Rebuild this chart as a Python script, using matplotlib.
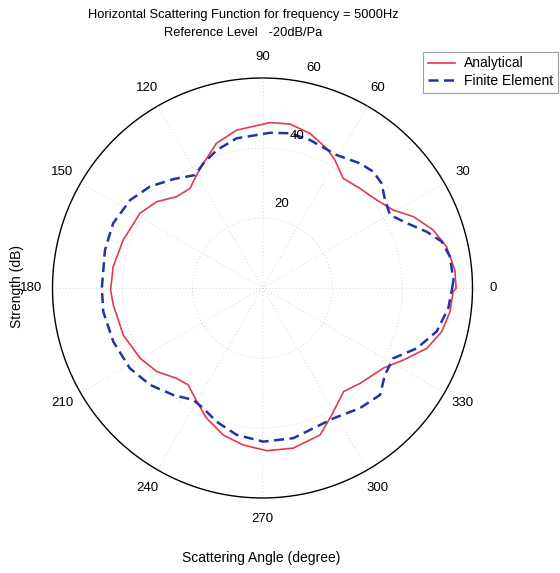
import numpy as np
import matplotlib
matplotlib.use("Agg")
import matplotlib.pyplot as plt

plt.rcParams['font.family'] = ['Liberation Sans', 'DejaVu Sans']

# angle (deg), strength (dB)
ang_analytical = [0, 5.3, 12.6, 18.8, 25.3, 30.8, 37.6, 45.6, 53.6, 60.5, 65.3, 72.9,
                  80.5, 87.4, 99.3, 107.6, 115.4, 120.2, 126, 133.2, 140.8, 148.6,
                  161, 171.9, 180.8, 186.5, 198.7, 209.9, 218.3, 226.5, 232.6, 240,
                  246.8, 255.1, 263, 271.5, 280.9, 291.4, 298.6, 308.1, 315.7, 326.4,
                  332.9, 339.8, 346.3, 352.8, 358.9, 360]
r_analytical = [55.3, 55.2, 53.9, 51.5, 47.7, 43.5, 41.2, 39.8, 38.9, 42.0, 43.9, 46.2,
                47.5, 47.3, 45.7, 43.4, 39.4, 37.4, 35.2, 35.8, 39.0, 41.0,
                42.1, 43.1, 43.4, 42.9, 42.0, 40.3, 38.5, 35.6, 34.9, 37.5,
                40.5, 43.5, 45.2, 46.5, 46.6, 45.1, 41.3, 37.6, 39.0, 41.4,
                45.2, 50.0, 52.7, 54.0, 54.5, 55.3]

ang_fe = [0, 2.4, 9.5, 14.5, 18.9, 24.2, 29.8, 35.7, 41.3, 46.4, 52, 60.8, 72.2,
          79.9, 87.2, 99.8, 108.4, 115.4, 120.9, 129.3, 138, 146.4, 156.6, 166.4,
          180, 188.5, 199.8, 211.2, 220.8, 230.2, 238.3, 243.8, 251.1, 260, 270.3,
          281.6, 298.5, 309, 317.7, 324.6, 331.7, 338.6, 346, 353.8, 360]
r_fe = [54.2, 54.6, 54.3, 52.9, 49.6, 45.2, 42.0, 43.1, 45.3, 45.9, 45.2, 43.5, 44.4,
        44.9, 44.4, 43.4, 41.5, 39.4, 37.6, 40.2, 43.3, 45.4, 46.5, 46.3,
        45.9, 46.0, 45.3, 44.3, 42.4, 39.8, 37.6, 38.3, 40.4, 42.6, 43.9,
        43.8, 42.4, 44.2, 45.4, 42.9, 42.4, 47.3, 51.3, 53.4, 54.2]

rings = [20, 40, 60]
angle_ticks = [0, 30, 60, 90, 120, 150, 180, 210, 240, 270, 300, 330]

fig = plt.figure(figsize=(5.6, 5.73), dpi=100)
ax = fig.add_axes([0.09375, 0.1309, 0.75, 0.733], projection='polar')
ax.set_ylim(0, 60)
ax.grid(False)
ax.set_xticks([])
ax.set_yticks([])
ax.spines['polar'].set_visible(False)

# grid: faint dotted rings and spokes, solid outer circle
gcol = '#c8c8c8'
t = np.linspace(0, 2 * np.pi, 400)
for rv in rings[:-1]:
    ax.plot(t, [rv] * len(t), color=gcol, lw=0.6, dashes=(1, 3))
ax.plot(t, [rings[-1]] * len(t), '-', color='black', lw=1.0, clip_on=False)
for a in angle_ticks[:6]:
    th = np.deg2rad(a)
    ax.plot([th, th + np.pi], [60, 60], color=gcol, lw=0.6, dashes=(1, 3))

for rv in rings:
    ax.text(np.deg2rad(77), rv + 4.5, str(rv), ha='center', va='center',
            fontsize=9.5, clip_on=False)
for a in angle_ticks:
    ax.text(np.deg2rad(a), 66, str(a), ha='center', va='center',
            fontsize=9.5, clip_on=False)

l1, = ax.plot(np.deg2rad(ang_analytical), r_analytical, '-', color='#e23a4e',
              lw=1.2, label='Analytical')
l2, = ax.plot(np.deg2rad(ang_fe), r_fe, '--', color='#2233aa', lw=1.8,
              dashes=(4, 2.2), label='Finite Element')

fig.text(0.434, 0.973, 'Horizontal Scattering Function for frequency = 5000Hz',
         ha='center', va='center', fontsize=9.3)
fig.text(0.434, 0.943, 'Reference Level   -20dB/Pa', ha='center', va='center',
         fontsize=9.3)
fig.text(0.467, 0.026, 'Scattering Angle (degree)', ha='center', va='center',
         fontsize=10)
fig.text(0.030, 0.500, 'Strength (dB)', ha='center', va='center', rotation=90,
         fontsize=10)

leg = fig.legend(handles=[l1, l2], loc='upper left', bbox_to_anchor=(0.755, 0.910),
                 fontsize=10, frameon=True, fancybox=False, edgecolor='#888888',
                 handlelength=2.0, borderpad=0.35, labelspacing=0.25,
                 handletextpad=0.6, borderaxespad=0)
leg.get_frame().set_linewidth(0.8)

fig.savefig('out.png', dpi=100)
